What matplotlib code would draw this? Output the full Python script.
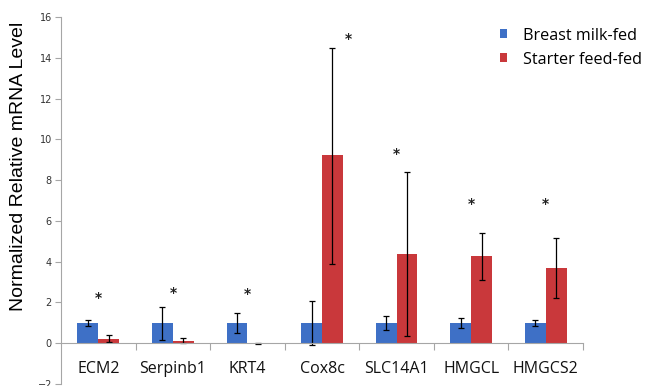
import matplotlib
matplotlib.use('Agg')
import matplotlib.pyplot as plt
import numpy as np

GENES = ['ECM2', 'Serpinb1', 'KRT4', 'Cox8c', 'SLC14A1', 'HMGCL', 'HMGCS2']
SERIES = ['Breast milk-fed', 'Starter feed-fed']

# bar heights and error bar ends (low, high)
MILK = [1.0, 1.0, 1.0, 1.0, 1.0, 1.0, 1.0]
MILK_LO = [0.83, 0.17, 0.49, -0.1, 0.64, 0.75, 0.85]
MILK_HI = [1.13, 1.78, 1.47, 2.07, 1.34, 1.22, 1.14]
STARTER = [0.23, 0.13, -0.03, 9.23, 4.36, 4.28, 3.68]
STARTER_LO = [0.04, 0.0, -0.05, 3.9, 0.36, 3.12, 2.2]
STARTER_HI = [0.41, 0.26, -0.01, 14.5, 8.38, 5.43, 5.16]

# significance stars
STAR_Y = [2.2, 2.46, 2.4, 14.9, 9.3, 6.85, 6.85]
STAR_DX = [0, 0, 0, 0.35, 0, 0, 0]

BLUE = '#3E70C6'
RED = '#C9383B'
GREY = '#A6A6A6'

fig = plt.figure(figsize=(6.52, 3.86), dpi=100)
ax = fig.add_axes([61 / 652, 2 / 386, 522 / 652, 367 / 386])

x = np.arange(len(GENES)) + 0.5
w = 0.28
milk = np.array(MILK)
starter = np.array(STARTER)
milk_err = [milk - np.array(MILK_LO), np.array(MILK_HI) - milk]
starter_err = [starter - np.array(STARTER_LO), np.array(STARTER_HI) - starter]

err_kw = dict(ecolor='black', elinewidth=0.9, capsize=2, capthick=0.9)
b1 = ax.bar(x - w / 2, milk, w, color=BLUE, yerr=milk_err, error_kw=err_kw, label=SERIES[0])
b2 = ax.bar(x + w / 2, starter, w, color=RED, yerr=starter_err, error_kw=err_kw, label=SERIES[1])

for xi, dx, sy in zip(x, STAR_DX, STAR_Y):
    ax.text(xi + dx, sy, '*', ha='center', va='center', fontsize=10,
            fontweight='bold', color='#222222')

ax.set_xlim(0, len(GENES))
ax.set_ylim(-2, 16)
ax.set_yticks(np.arange(-2, 17, 2))

for s in ['top', 'right']:
    ax.spines[s].set_visible(False)
ax.spines['left'].set_color(GREY)
ax.spines['bottom'].set_color(GREY)
ax.spines['bottom'].set_position(('data', 0))

ax.set_xticks(np.arange(1, len(GENES) + 1))
ax.set_xticklabels([])
ax.set_xticks(x, minor=True)
ax.set_xticklabels(GENES, minor=True, fontsize=11.5, family='Open Sans', color='#111111')
ax.tick_params(axis='x', which='major', direction='out', length=5, color=GREY)
ax.tick_params(axis='x', which='minor', length=0, pad=13)
ax.tick_params(axis='y', direction='out', length=4, color=GREY, labelsize=7,
               labelcolor='#333333', pad=2.5)

ax.set_ylabel('Normalized Relative mRNA Level', fontsize=14, family='Liberation Sans')
ax.yaxis.set_label_coords(-0.066, 0.592)

ax.legend(handles=[b1, b2], loc='upper left', bbox_to_anchor=(485 / 652, 1 - 13 / 386),
          bbox_transform=fig.transFigure, frameon=False,
          prop={'family': 'Open Sans', 'size': 11.6},
          handlelength=0.45, handleheight=0.45, handletextpad=1.0, labelspacing=0.5)

fig.savefig('out.png', dpi=100)
